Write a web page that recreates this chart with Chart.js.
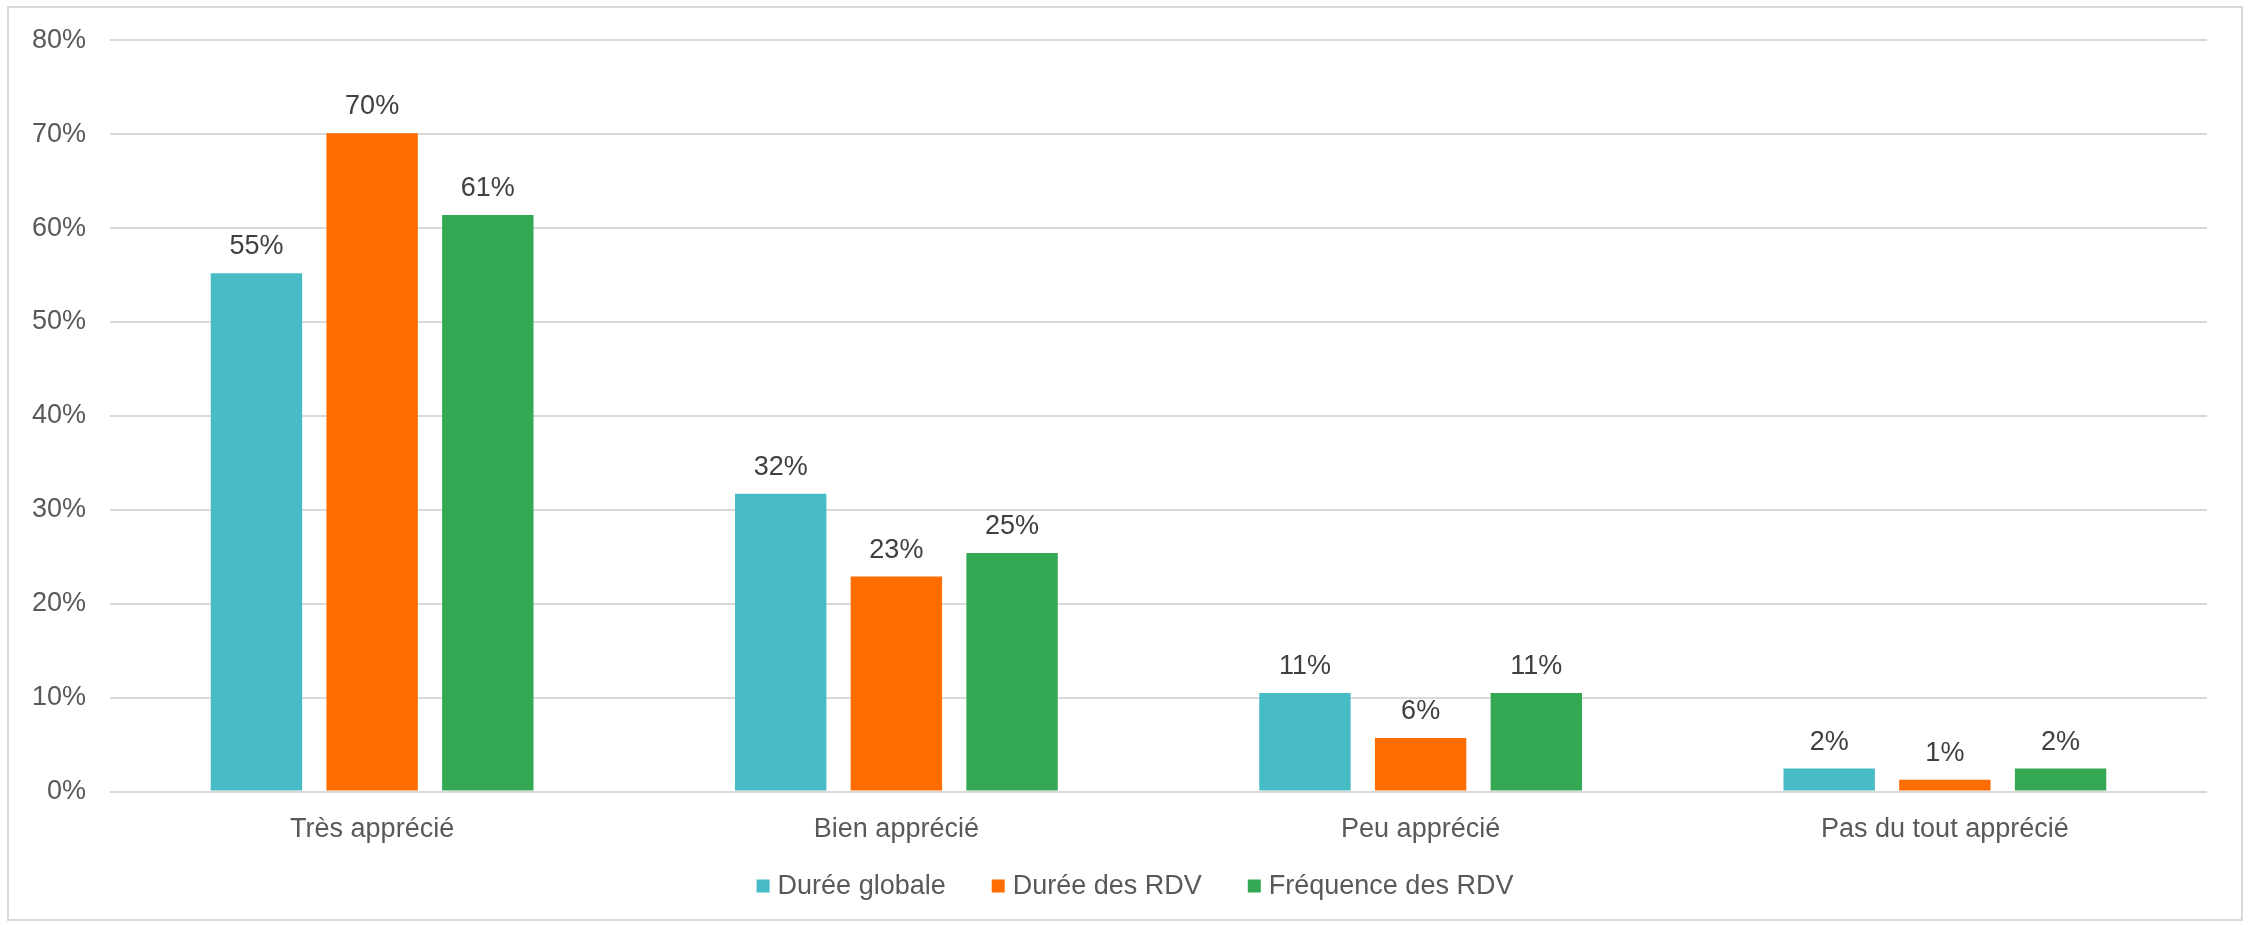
<!DOCTYPE html>
<html>
<head>
<meta charset="utf-8">
<script src="https://cdn.jsdelivr.net/npm/chart.js@4/dist/chart.umd.min.js"></script>
<style>
  html, body { margin: 0; padding: 0; background: #ffffff; }
  #wrap { width: 2254px; height: 925px; }
</style>
</head>
<body>
<div id="wrap"><canvas id="c" width="2254" height="925"></canvas></div>
<script>
const categories = ["Très apprécié", "Bien apprécié", "Peu apprécié", "Pas du tout apprécié"];
const seriesNames = ["Durée globale", "Durée des RDV", "Fréquence des RDV"];
const dureeGlobale = [55.2, 31.7, 10.5, 2.45];
const dureeRdv = [70.1, 22.9, 5.7, 1.25];
const frequenceRdv = [61.4, 25.4, 10.5, 2.45];
const yTicks = [0, 10, 20, 30, 40, 50, 60, 70, 80];
const colors = ["#47BBC6", "#FF6D00", "#34A853"];

const FONT = "'Liberation Sans', Arial, sans-serif";
const TEXT = "#595959";

const frame = {
  id: "frame",
  beforeDraw(chart) {
    const ctx = chart.ctx;
    ctx.save();
    ctx.fillStyle = "#ffffff";
    ctx.fillRect(0, 0, chart.width, chart.height);
    ctx.strokeStyle = "#D9D9D9";
    ctx.lineWidth = 2;
    ctx.strokeRect(8, 7, 2234, 913);
    ctx.restore();
  }
};

const valueLabels = {
  id: "valueLabels",
  afterDatasetsDraw(chart) {
    const ctx = chart.ctx;
    ctx.save();
    ctx.font = "27px " + FONT;
    ctx.fillStyle = "#404040";
    ctx.textAlign = "center";
    ctx.textBaseline = "alphabetic";
    chart.data.datasets.forEach((ds, i) => {
      const meta = chart.getDatasetMeta(i);
      meta.data.forEach((el, j) => {
        ctx.fillText(Math.round(ds.data[j]) + "%", el.x, el.y - 19);
      });
    });
    ctx.restore();
  }
};

// Legend drawn below the axis labels, centred on the canvas
const bottomLegend = {
  id: "bottomLegend",
  afterDraw(chart) {
    const ctx = chart.ctx;
    ctx.save();
    ctx.font = "27px " + FONT;
    ctx.textBaseline = "middle";
    ctx.textAlign = "left";
    const box = 13, gapText = 8, gapItem = 46;
    const items = chart.data.datasets.map(ds => ({
      label: ds.label, color: ds.backgroundColor, w: ctx.measureText(ds.label).width
    }));
    let total = 0;
    items.forEach((it, i) => { total += box + gapText + it.w + (i < items.length - 1 ? gapItem : 0); });
    let x = chart.width / 2 - total / 2 + 8;
    const cy = 886;
    items.forEach(it => {
      ctx.fillStyle = it.color;
      ctx.fillRect(x, cy - box / 2, box, box);
      ctx.fillStyle = TEXT;
      ctx.fillText(it.label, x + box + gapText, cy + 1);
      x += box + gapText + it.w + gapItem;
    });
    ctx.restore();
  }
};

const seriesData = [dureeGlobale, dureeRdv, frequenceRdv];

new Chart(document.getElementById("c"), {
  type: "bar",
  data: {
    labels: categories,
    datasets: seriesNames.map((n, i) => ({
      label: n,
      data: seriesData[i],
      backgroundColor: colors[i],
      borderWidth: 0,
      barPercentage: 0.79,
      categoryPercentage: 0.662
    }))
  },
  options: {
    responsive: false,
    animation: false,
    devicePixelRatio: 1,
    layout: { padding: { left: 31, right: 47, top: 40, bottom: 57 } },
    plugins: {
      tooltip: { enabled: false },
      title: { display: false },
      legend: { display: false }
    },
    scales: {
      x: {
        grid: { display: false, drawTicks: false },
        border: { display: false },
        ticks: {
          font: { family: FONT, size: 27 },
          color: TEXT,
          padding: 22,
          maxRotation: 0
        }
      },
      y: {
        min: 0,
        max: 80,
        afterBuildTicks(axis) { axis.ticks = yTicks.map(v => ({ value: v })); },
        afterFit(axis) { axis.width = 79; },
        grid: { color: "#D9D9D9", lineWidth: 2, drawTicks: false },
        border: { display: false },
        ticks: {
          font: { family: FONT, size: 27 },
          color: TEXT,
          padding: 24,
          callback: v => v + "%"
        }
      }
    }
  },
  plugins: [frame, valueLabels, bottomLegend]
});
</script>
</body>
</html>
